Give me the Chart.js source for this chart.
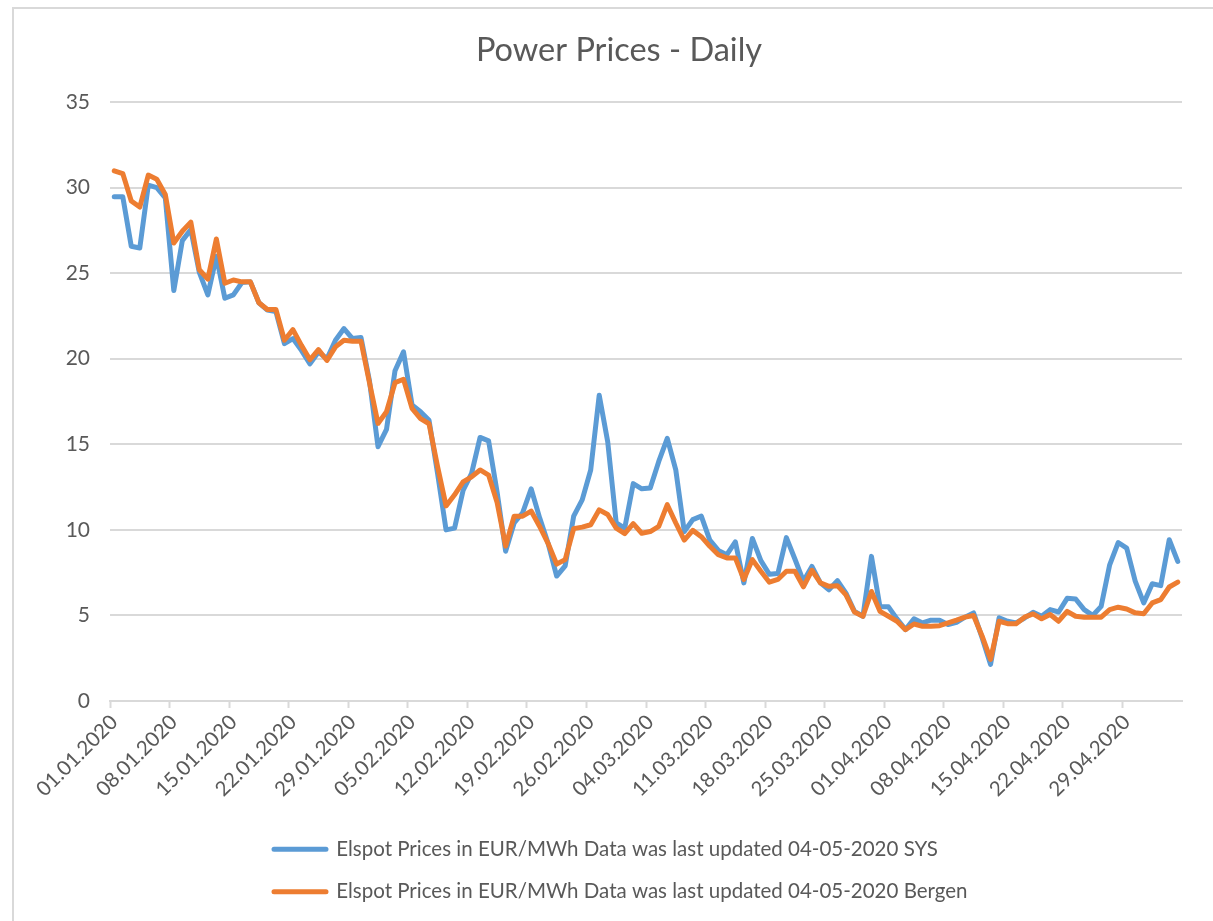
<!DOCTYPE html>
<html>
<head>
<meta charset="utf-8">
<title>Power Prices - Daily</title>
<script src="https://cdn.jsdelivr.net/npm/chart.js@4.4.1/dist/chart.umd.min.js"></script>
<style>
  html, body { margin: 0; padding: 0; background: #fff; }
  #wrap { position: relative; width: 1213px; height: 921px; overflow: hidden; }
  #frame { position: absolute; left: 12px; top: 7px; width: 1300px; height: 1000px;
           border-left: 2px solid #d9d9d9; border-top: 2px solid #d9d9d9; }
  #chart { position: absolute; left: 0; top: 0; }
</style>
</head>
<body>
<div id="wrap">
  <div id="frame"></div>
  <canvas id="chart" width="1213" height="921"></canvas>
</div>
<script>
// daily prices 01.01.2020 - 05.05.2020, EUR/MWh
const sysPrices = [
  29.47, 29.47, 26.57, 26.47, 30.14, 30.0, 29.4, 23.98, 26.9, 27.55,
  25.04, 23.73, 25.98, 23.53, 23.73, 24.45, 24.49, 23.27, 22.84, 22.75,
  20.88, 21.18, 20.49, 19.7, 20.39, 20.0, 21.08, 21.76, 21.18, 21.24,
  18.7, 14.86, 15.87, 19.3, 20.4, 17.3, 16.9, 16.4, 13.3, 10.0,
  10.1, 12.3, 13.3, 15.4, 15.2, 12.2, 8.75, 10.4, 11.0, 12.4,
  10.7, 9.2, 7.3, 7.9, 10.8, 11.75, 13.5, 17.87, 15.15, 10.4,
  10.1, 12.7, 12.4, 12.45, 14.0, 15.35, 13.5, 9.9, 10.6, 10.8,
  9.4, 8.8, 8.55, 9.3, 6.9, 9.5, 8.2, 7.4, 7.45, 9.55,
  8.3, 7.0, 7.86, 6.9, 6.5, 7.03, 6.3, 5.24, 4.95, 8.45,
  5.5, 5.5, 4.8, 4.17, 4.8, 4.56, 4.72, 4.72, 4.47, 4.6,
  4.9, 5.15, 3.7, 2.14, 4.86, 4.66, 4.56, 4.85, 5.18, 4.95,
  5.34, 5.2, 6.0, 5.96, 5.34, 5.0, 5.53, 7.96, 9.26, 8.93,
  7.0, 5.73, 6.85, 6.74, 9.42, 8.16
];
const bergenPrices = [
  30.98, 30.82, 29.22, 28.86, 30.73, 30.49, 29.6, 26.76, 27.45, 27.98,
  25.2, 24.65, 27.0, 24.41, 24.6, 24.49, 24.49, 23.27, 22.88, 22.88,
  21.08, 21.7, 20.78, 19.94, 20.53, 19.9, 20.69, 21.08, 21.02, 21.02,
  18.6, 16.22, 16.9, 18.6, 18.8, 17.1, 16.5, 16.2, 13.7, 11.4,
  12.05, 12.8, 13.1, 13.5, 13.2, 11.6, 9.05, 10.8, 10.8, 11.1,
  10.2, 9.2, 8.0, 8.26, 10.07, 10.16, 10.3, 11.17, 10.9, 10.1,
  9.78, 10.36, 9.8, 9.9, 10.2, 11.47, 10.4, 9.4, 9.97, 9.6,
  9.04, 8.55, 8.36, 8.36, 7.1, 8.26, 7.58, 6.94, 7.1, 7.58,
  7.58, 6.67, 7.64, 6.9, 6.7, 6.74, 6.2, 5.2, 4.95, 6.4,
  5.24, 4.95, 4.66, 4.17, 4.5, 4.37, 4.37, 4.4, 4.56, 4.72,
  4.9, 5.0, 3.8, 2.43, 4.66, 4.52, 4.52, 4.9, 5.09, 4.8,
  5.05, 4.66, 5.24, 4.95, 4.9, 4.9, 4.9, 5.34, 5.48, 5.38,
  5.15, 5.1, 5.73, 5.92, 6.66, 6.95
];
const tickLabels = [
  '01.01.2020', '08.01.2020', '15.01.2020', '22.01.2020', '29.01.2020', '05.02.2020',
  '12.02.2020', '19.02.2020', '26.02.2020', '04.03.2020', '11.03.2020', '18.03.2020',
  '25.03.2020', '01.04.2020', '08.04.2020', '15.04.2020', '22.04.2020', '29.04.2020'
];
const seriesNames = [
  'Elspot Prices in EUR/MWh Data was last updated 04-05-2020 SYS',
  'Elspot Prices in EUR/MWh Data was last updated 04-05-2020 Bergen'
];

function pad(n) {
    return n < 10 ? '0' + n : '' + n;
}
// one category per day
const days = [];
for (let i = 0; i < sysPrices.length; i++) {
    const d = new Date(2020, 0, 1 + i);
    days.push(pad(d.getDate()) + '.' + pad(d.getMonth() + 1) + '.' + d.getFullYear());
}

const grey = '#595959';
const gridGrey = '#d9d9d9';

// Excel centres the title on its frame and left-aligns the legend block
const shiftBoxes = {
    id: 'shiftBoxes',
    afterLayout(chart) {
        chart.titleBlock.left = 56;
        chart.legend.left = 274 - chart.legend.options.labels.padding;
    }
};

const data = {
    labels: days,
    datasets: [
        {
            label: seriesNames[0],
            data: sysPrices,
            borderColor: '#5B9BD5',
            backgroundColor: '#5B9BD5',
            borderWidth: 5,
            borderCapStyle: 'round',
            borderJoinStyle: 'round',
            pointRadius: 0,
            tension: 0,
            order: 1
        },
        {
            label: seriesNames[1],
            data: bergenPrices,
            borderColor: '#ED7D31',
            backgroundColor: '#ED7D31',
            borderWidth: 5,
            borderCapStyle: 'round',
            borderJoinStyle: 'round',
            pointRadius: 0,
            tension: 0,
            order: 0
        }
    ]
};

const config = {
    type: 'line',
    data: data,
    plugins: [shiftBoxes],
    options: {
        responsive: false,
        animation: false,
        devicePixelRatio: 1,
        layout: {
            padding: { left: 0, right: 31, top: 0, bottom: 9 }
        },
        plugins: {
            tooltip: { enabled: false },
            title: {
                display: true,
                text: 'Power Prices - Daily',
                color: grey,
                font: { family: 'Lato', size: 32.5, weight: 'normal', lineHeight: 1.2 },
                padding: { top: 30.8, bottom: 32.2 }
            },
            legend: {
                position: 'bottom',
                align: 'start',
                labels: {
                    boxWidth: 52,
                    boxHeight: 0,
                    padding: 22,
                    color: grey,
                    font: { family: 'Lato', size: 20.5 },
                    sort: (a, b) => a.datasetIndex - b.datasetIndex
                }
            }
        },
        scales: {
            x: {
                offset: true,
                grid: {
                    offset: true,
                    drawOnChartArea: false,
                    tickLength: 7,
                    tickWidth: 2,
                    tickColor: ctx => ctx.index % 7 === 0 ? gridGrey : 'rgba(0,0,0,0)'
                },
                border: { color: gridGrey, width: 2 },
                ticks: {
                    autoSkip: false,
                    minRotation: 45,
                    maxRotation: 45,
                    padding: 2,
                    color: grey,
                    font: { family: 'Lato', size: 20.5 },
                    callback: (value, index) => index % 7 === 0 ? tickLabels[index / 7] : ''
                },
                afterFit(scale) {
                    scale.height = 116;
                }
            },
            y: {
                min: 0,
                max: 35,
                ticks: {
                    stepSize: 5,
                    padding: 20,
                    color: grey,
                    font: { family: 'Lato', size: 21 }
                },
                grid: { color: gridGrey, lineWidth: 2, drawTicks: false },
                border: { display: false },
                afterFit(scale) {
                    scale.width = 110;
                }
            }
        }
    }
};

new Chart(document.getElementById('chart'), config);
</script>
</body>
</html>
